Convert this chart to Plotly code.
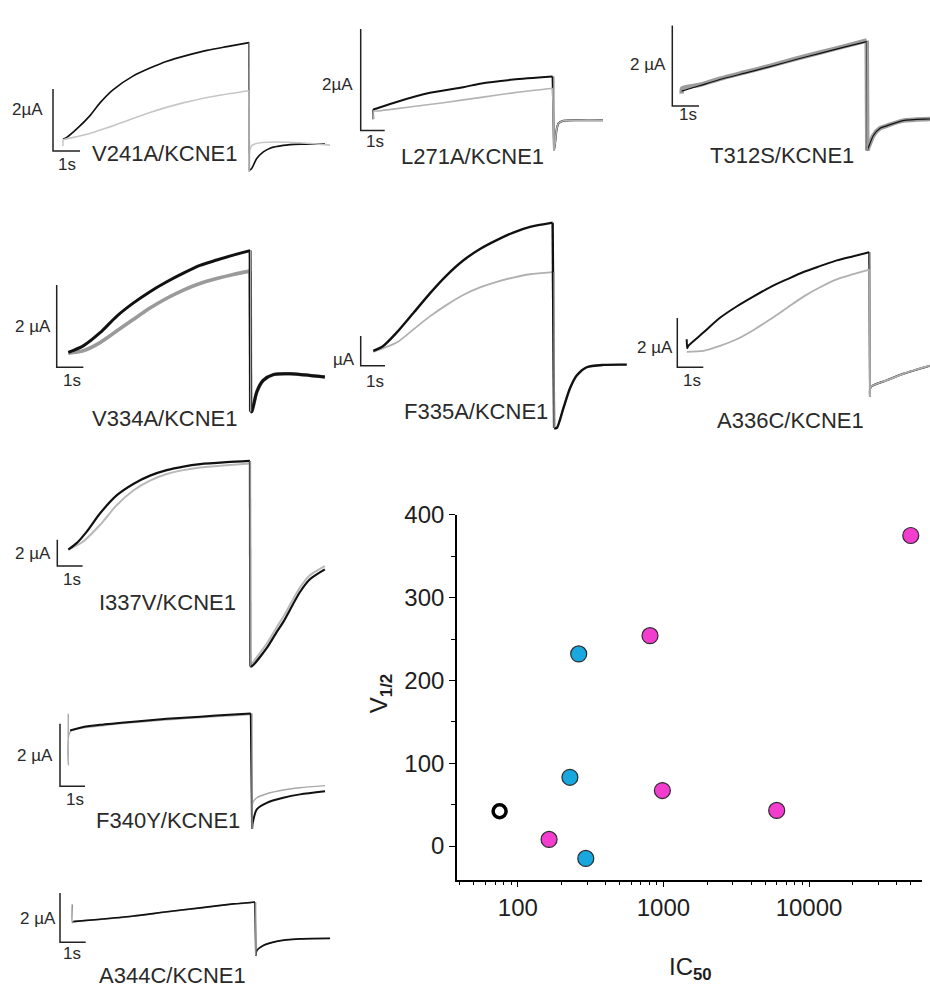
import plotly.graph_objects as go

W, H = 930, 988
FONT = "Liberation Sans, Arial, sans-serif"

# ---------------- scatter data: V1/2 vs IC50 ----------------
WT_IC50 = [75]
WT_V12 = [42]
BLUE_IC50 = [262, 228, 293]
BLUE_V12 = [232, 83, -15]
MAGENTA_IC50 = [50000, 809, 984, 6000, 164]
MAGENTA_V12 = [375, 254, 67, 43, 8]
X_TICKS = [100, 1000, 10000]
X_TICK_TEXT = ["100", "1000", "10000"]
X_MINOR = [40, 50, 60, 70, 80, 90, 200, 300, 400, 500, 600, 700, 800, 900,
           2000, 3000, 4000, 5000, 6000, 7000, 8000, 9000, 20000, 30000, 40000, 50000]
Y_TICKS = [0, 100, 200, 300, 400]
Y_MINOR = [50, 150, 250, 350]

# ---------------- current traces (time in s, current in µA) ----------------
SCALE_S = 1      # horizontal scale bar, s
SCALE_UA = 2     # vertical scale bar, µA

V241A_T_BLACK = [0, 0.14, 0.51, 1.0, 1.37, 1.85, 2.59, 3.22, 3.85, 4.59, 5.33, 6.07, 6.89]
V241A_I_BLACK = [0, 0.06, 0.33, 0.76, 1.17, 1.59, 2.03, 2.29, 2.51, 2.70, 2.86, 2.98, 3.11]
V241A_T_GRAY = [0, 0.01, 0.14, 0.89, 2.0, 3.22, 4.44, 5.70, 6.89]
V241A_I_GRAY = [-0.22, -0.02, 0.01, 0.16, 0.48, 0.86, 1.17, 1.40, 1.56]
V241A_T_TAIL_BLACK = [6.90, 6.99, 7.17, 7.42, 7.67, 8.16, 8.78, 9.70]
V241A_I_TAIL_BLACK = [-1.00, -0.94, -0.63, -0.41, -0.29, -0.20, -0.16, -0.15]
V241A_T_TAIL_GRAY = [6.90, 7.00, 9.89]
V241A_I_TAIL_GRAY = [-1.05, -0.20, -0.19]

L271A_T_BLACK = [0, 0.01, 0.14, 0.97, 2.36, 3.75, 4.45, 5.83, 7.47]
L271A_I_BLACK = [0, 0.19, 0.21, 0.34, 0.52, 0.63, 0.70, 0.78, 0.84]
L271A_T_GRAY = [0, 0.01, 0.14, 1.5, 3.0, 4.5, 6.0, 7.47]
L271A_I_GRAY = [0, 0.16, 0.16, 0.24, 0.33, 0.43, 0.53, 0.61]
L271A_T_TAIL = [7.53, 7.58, 7.64, 7.72, 7.92, 8.61, 9.57]
L271A_I_TAIL = [-0.61, -0.45, -0.20, -0.08, -0.03, -0.02, -0.02]

T312S_T_BLACK = [0, 0.69, 1.43, 2.37, 3.31, 4.24, 5.18, 6.12, 6.93]
T312S_I_BLACK = [0, 0.14, 0.29, 0.45, 0.61, 0.78, 0.94, 1.10, 1.23]
T312S_T_GRAY = [0, 0.02, 0.69, 1.43, 2.37, 3.31, 4.24, 5.18, 6.12, 6.93]
T312S_I_GRAY = [-0.06, 0.07, 0.16, 0.31, 0.47, 0.63, 0.80, 0.96, 1.12, 1.26]
T312S_T_TAIL = [6.95, 6.98, 7.18, 7.43, 7.68, 8.29, 9.30, 9.60]
T312S_I_TAIL = [-1.47, -1.42, -1.10, -0.92, -0.86, -0.73, -0.69, -0.68]

V334A_T_BLACK = [0, 0.56, 1.19, 1.81, 2.43, 3.06, 3.69, 4.31, 4.93, 5.56, 6.18, 6.81]
V334A_I_BLACK = [0, 0.16, 0.48, 0.88, 1.20, 1.48, 1.72, 1.93, 2.12, 2.25, 2.37, 2.48]
V334A_T_GRAY = [0, 0.56, 1.19, 1.81, 2.43, 3.06, 3.69, 4.31, 4.93, 5.56, 6.18, 6.81]
V334A_I_GRAY = [-0.02, 0.04, 0.24, 0.52, 0.80, 1.08, 1.32, 1.52, 1.68, 1.80, 1.90, 1.98]
V334A_T_TAIL = [6.83, 6.87, 7.06, 7.30, 7.68, 8.30, 9.61]
V334A_I_TAIL = [-1.44, -1.44, -0.96, -0.68, -0.54, -0.52, -0.60]

F335A_T_BLACK = [0, 0.41, 0.96, 1.65, 2.33, 3.02, 3.70, 4.39, 5.08, 5.76, 6.45, 7.38]
F335A_I_BLACK = [0, 0.33, 1.23, 2.56, 3.89, 5.11, 6.11, 6.89, 7.49, 8.00, 8.38, 8.67]
F335A_T_GRAY = [0, 0.96, 1.65, 2.33, 3.02, 3.70, 4.39, 5.08, 5.76, 6.45, 7.38]
F335A_I_GRAY = [-0.07, 0.56, 1.45, 2.33, 3.11, 3.78, 4.29, 4.67, 4.96, 5.18, 5.33]
F335A_T_TAIL = [7.44, 7.55, 7.82, 8.09, 8.37, 8.78, 9.47, 10.43]
F335A_I_TAIL = [-5.22, -5.22, -3.89, -2.55, -1.67, -1.11, -0.95, -0.93]

A336C_T_BLACK = [0, 0.02, 0.06, 0.64, 1.28, 1.92, 2.56, 3.20, 3.85, 4.49, 5.13, 5.77, 6.41, 7.02]
A336C_I_BLACK = [0.51, 0.15, 0.24, 0.78, 1.38, 1.84, 2.24, 2.62, 2.94, 3.24, 3.48, 3.71, 3.88, 4.04]
A336C_T_GRAY = [0, 0.64, 1.28, 1.92, 2.56, 3.20, 3.85, 4.49, 5.13, 5.77, 6.41, 7.02]
A336C_I_GRAY = [0, 0.04, 0.24, 0.51, 0.88, 1.31, 1.78, 2.24, 2.62, 2.94, 3.15, 3.34]
A336C_T_TAIL = [7.05, 7.08, 7.69, 8.33, 9.36]
A336C_I_TAIL = [-1.82, -1.42, -1.16, -0.89, -0.56]

I337V_T_BLACK = [0, 0.33, 0.73, 1.25, 1.91, 2.57, 3.23, 3.89, 4.55, 5.21, 6.26, 7.18]
I337V_I_BLACK = [0, 0.49, 1.37, 2.74, 4.12, 4.99, 5.62, 6.04, 6.31, 6.49, 6.64, 6.74]
I337V_T_GRAY = [0.13, 0.59, 1.25, 1.91, 2.57, 3.23, 3.89, 4.55, 5.21, 6.26, 7.18]
I337V_I_GRAY = [0.12, 0.62, 1.87, 3.37, 4.49, 5.24, 5.74, 6.04, 6.24, 6.41, 6.54]
I337V_T_TAIL = [7.19, 7.25, 7.84, 8.24, 8.50, 9.15, 9.55, 10.14]
I337V_I_TAIL_BLACK = [-8.87, -8.87, -7.49, -6.25, -5.49, -3.24, -2.25, -1.50]
I337V_I_TAIL_GRAY = [-8.87, -8.70, -7.15, -5.90, -5.10, -2.90, -1.95, -1.25]

F340Y_T_BLACK = [0.07, 0.6, 1.27, 2.6, 3.94, 5.27, 6.6, 7.3]
F340Y_I_BLACK = [0, 0.11, 0.18, 0.28, 0.37, 0.44, 0.51, 0.54]
F340Y_T_GRAY = [0, 0, 0.07, 1.27, 3.94, 7.3]
F340Y_I_GRAY = [0.53, -1.11, -0.05, 0.14, 0.34, 0.51]
F340Y_T_TAIL = [7.35, 7.38, 7.54, 7.94, 8.6, 9.27, 10.27]
F340Y_I_TAIL_BLACK = [-3.16, -2.95, -2.53, -2.32, -2.16, -2.05, -1.95]
F340Y_I_TAIL_GRAY = [-3.16, -2.32, -2.16, -2.03, -1.91, -1.84, -1.77]

A344C_T_BLACK = [0.04, 1.08, 2.37, 3.67, 4.97, 6.26, 7.11]
A344C_I_BLACK = [0, 0.10, 0.23, 0.40, 0.56, 0.72, 0.80]
A344C_T_GRAY = [0, 0, 0.04, 1.08, 2.37, 3.67, 4.97, 6.26, 7.11]
A344C_I_GRAY = [0.70, -0.04, 0, 0.09, 0.22, 0.39, 0.55, 0.71, 0.79]
A344C_T_TAIL = [7.14, 7.18, 7.43, 7.95, 8.86, 10.03]
A344C_I_TAIL = [-1.37, -1.17, -0.97, -0.80, -0.70, -0.68]

PANEL_NAMES = ["V241A/KCNE1", "L271A/KCNE1", "T312S/KCNE1", "V334A/KCNE1", "F335A/KCNE1",
               "A336C/KCNE1", "I337V/KCNE1", "F340Y/KCNE1", "A344C/KCNE1"]
SCALE_LABELS = ["2µA", "2µA", "2 µA", "2 µA", "µA", "2 µA", "2 µA", "2 µA", "2 µA"]

PANEL_DATA = [
    (V241A_T_BLACK, V241A_I_BLACK, V241A_T_GRAY, V241A_I_GRAY,
     V241A_T_TAIL_BLACK, V241A_I_TAIL_BLACK, V241A_T_TAIL_GRAY, V241A_I_TAIL_GRAY),
    (L271A_T_BLACK, L271A_I_BLACK, L271A_T_GRAY, L271A_I_GRAY,
     L271A_T_TAIL, L271A_I_TAIL, L271A_T_TAIL, L271A_I_TAIL),
    (T312S_T_BLACK, T312S_I_BLACK, T312S_T_GRAY, T312S_I_GRAY,
     T312S_T_TAIL, T312S_I_TAIL, T312S_T_TAIL, T312S_I_TAIL),
    (V334A_T_BLACK, V334A_I_BLACK, V334A_T_GRAY, V334A_I_GRAY,
     V334A_T_TAIL, V334A_I_TAIL, V334A_T_TAIL, V334A_I_TAIL),
    (F335A_T_BLACK, F335A_I_BLACK, F335A_T_GRAY, F335A_I_GRAY,
     F335A_T_TAIL, F335A_I_TAIL, F335A_T_TAIL, F335A_I_TAIL),
    (A336C_T_BLACK, A336C_I_BLACK, A336C_T_GRAY, A336C_I_GRAY,
     A336C_T_TAIL, A336C_I_TAIL, A336C_T_TAIL, A336C_I_TAIL),
    (I337V_T_BLACK, I337V_I_BLACK, I337V_T_GRAY, I337V_I_GRAY,
     I337V_T_TAIL, I337V_I_TAIL_BLACK, I337V_T_TAIL, I337V_I_TAIL_GRAY),
    (F340Y_T_BLACK, F340Y_I_BLACK, F340Y_T_GRAY, F340Y_I_GRAY,
     F340Y_T_TAIL, F340Y_I_TAIL_BLACK, F340Y_T_TAIL, F340Y_I_TAIL_GRAY),
    (A344C_T_BLACK, A344C_I_BLACK, A344C_T_GRAY, A344C_I_GRAY,
     A344C_T_TAIL, A344C_I_TAIL, A344C_T_TAIL, A344C_I_TAIL),
]

# ---------------- layout geometry (pixels) and styles ----------------
# origin = pixel of (t=0, I=0); pps = px per s; ppu = px per µA; bar = scale-bar corner
PANEL_GEO = [
    dict(origin=(63, 127), pps=27.0, ppu=31.5, bar=(53, 139),
         lab=(27, 97), sec=(67, 153), name=(165, 142)),
    dict(origin=(373.3, 106.7), pps=24.0, ppu=51.5, bar=(360.7, 118.3),
         lab=(337, 72), sec=(375, 129), name=(472, 145)),
    dict(origin=(681.7, 78.3), pps=26.7, ppu=40.85, bar=(672.3, 93.3),
         lab=(648, 51), sec=(688, 102), name=(782, 144)),
    dict(origin=(68.3, 343.3), pps=26.7, ppu=41.65, bar=(56.7, 358.3),
         lab=(33, 317), sec=(72, 372), name=(165, 410)),
    dict(origin=(373.3, 341.7), pps=24.3, ppu=15.0, bar=(360.7, 356.7),
         lab=(344, 350), sec=(375, 373), name=(476, 403)),
    dict(origin=(686.7, 342.7), pps=26.0, ppu=25.0, bar=(677.3, 358.3),
         lab=(655, 338), sec=(692, 372), name=(790, 412)),
    dict(origin=(68.3, 543.3), pps=25.3, ppu=13.35, bar=(57.3, 560),
         lab=(33, 547), sec=(72, 574), name=(167, 597)),
    dict(origin=(68.3, 726.7), pps=25.0, ppu=31.65, bar=(60, 783.3),
         lab=(35, 752), sec=(75, 797), name=(168, 818)),
    dict(origin=(72.3, 920.7), pps=25.7, ppu=25.0, bar=(60, 941.7),
         lab=(38, 917), sec=(72, 953), name=(172, 975)),
]
PANEL_STYLE = [
    dict(bw=1.6, gc="#c6c6c6", gw=1.6, step="black"),
    dict(bw=2.0, gc="#b3b3b3", gw=1.6, step="black"),
    dict(bw=1.2, gc="#9c9c9c", gw=4.5, step="black"),
    dict(bw=3.0, gc="#9a9a9a", gw=3.6, step="black"),
    dict(bw=2.4, gc="#b0b0b0", gw=1.8, step="gray"),
    dict(bw=2.0, gc="#b0b0b0", gw=1.8, step="black"),
    dict(bw=2.2, gc="#b8b8b8", gw=2.0, step="black"),
    dict(bw=2.0, gc="#a8a8a8", gw=1.4, step="black"),
    dict(bw=1.6, gc="#8a8a8a", gw=1.4, step="black"),
]

fig = go.Figure()
annotations = []
layout_axes = {}


def paper(px, py):
    return px / W, 1 - py / H


for k in range(9):
    n = k + 2
    xr, yr = f"x{n}", f"y{n}"
    geo, sty = PANEL_GEO[k], PANEL_STYLE[k]
    tb, ib, tg, ig, ttb, itb, ttg, itg = PANEL_DATA[k]
    x0, y0 = geo["origin"]
    pps, ppu = geo["pps"], geo["ppu"]
    layout_axes[f"xaxis{n}"] = dict(domain=[0, 1], range=[-x0 / pps, (W - x0) / pps],
                                    visible=False, anchor=yr, fixedrange=True)
    layout_axes[f"yaxis{n}"] = dict(domain=[0, 1], range=[(y0 - H) / ppu, y0 / ppu],
                                    visible=False, anchor=xr, fixedrange=True)

    def line(x, y, color, width, shape="spline"):
        fig.add_trace(go.Scatter(x=x, y=y, xaxis=xr, yaxis=yr, mode="lines",
                                 line=dict(color=color, width=width, shape=shape,
                                           smoothing=0.7 if shape == "spline" else None),
                                 hoverinfo="skip", showlegend=False))

    black_first = k in (0, 1, 5)   # where gray lies on top
    order = ["black", "gray"] if black_first else ["gray", "black"]
    for c in order:
        if c == "gray":
            line(tg, ig, sty["gc"], sty["gw"])
            line([tg[-1], ttg[0]], [ig[-1], itg[0]], sty["gc"], sty["gw"], "linear")
            line(ttg, itg, sty["gc"], sty["gw"])
        else:
            line(tb, ib, "#111111", sty["bw"])
            line([tb[-1], ttb[0]], [ib[-1], itb[0]], "#111111", sty["bw"], "linear")
            line(ttb, itb, "#111111", sty["bw"])
    # capacitive step drawn in light gray
    top = ib[-1] if sty["step"] == "black" else ig[-1]
    bottom = min(itb[0], itg[0])
    t_step = max(ttb[0], ttg[0])
    line([t_step, t_step], [top, bottom], "#a6a6a6", 1.3, "linear")

    # scale bar
    bx = (geo["bar"][0] - x0) / pps
    by = (y0 - geo["bar"][1]) / ppu
    line([bx, bx, bx + SCALE_S], [by + SCALE_UA, by, by], "#222222", 1.5, "linear")

    for key, txt, size in (("lab", SCALE_LABELS[k], 17), ("sec", "1s", 17),
                           ("name", PANEL_NAMES[k], 22)):
        px, py = geo[key]
        ax_, ay_ = paper(px, py)
        annotations.append(dict(x=ax_, y=ay_, xref="paper", yref="paper", text=txt,
                                showarrow=False, xanchor="center", yanchor="middle",
                                font=dict(family=FONT, size=size, color="#2a2a2a")))

# ---------------- scatter plot ----------------
mk_line = dict(color="#2b2b2b", width=1.2)
fig.add_trace(go.Scatter(x=BLUE_IC50, y=BLUE_V12, mode="markers", xaxis="x", yaxis="y",
                         marker=dict(size=16, color="#19a7e0", line=mk_line),
                         showlegend=False, cliponaxis=False))
fig.add_trace(go.Scatter(x=MAGENTA_IC50, y=MAGENTA_V12, mode="markers", xaxis="x", yaxis="y",
                         marker=dict(size=16, color="#f23dcf", line=mk_line),
                         showlegend=False, cliponaxis=False))
fig.add_trace(go.Scatter(x=WT_IC50, y=WT_V12, mode="markers", xaxis="x", yaxis="y",
                         marker=dict(size=13, color="white", line=dict(color="black", width=3.5)),
                         showlegend=False, cliponaxis=False))

X_LEFT, X_RIGHT, Y_TOP, Y_BOTTOM = 457, 922, 508, 878
PX_PER_DECADE = 145.6
x_log_right = 4 + (X_RIGHT - 809) / PX_PER_DECADE
x_log_left = x_log_right - (X_RIGHT - X_LEFT) / PX_PER_DECADE
tickfont = dict(family=FONT, size=24, color="#1e1e1e")

fig.update_layout(
    width=W, height=H, autosize=False,
    margin=dict(l=0, r=0, t=0, b=0),
    paper_bgcolor="white", plot_bgcolor="rgba(0,0,0,0)",
    showlegend=False,
    xaxis=dict(type="log", domain=[X_LEFT / W, X_RIGHT / W], range=[x_log_left, x_log_right],
               anchor="y", showline=True, linecolor="black", linewidth=1.6,
               ticks="outside", ticklen=6, tickwidth=1.3, tickcolor="black",
               tickvals=X_TICKS, ticktext=X_TICK_TEXT, tickfont=tickfont,
               showgrid=False, zeroline=False, fixedrange=True,
               minor=dict(tickvals=X_MINOR, ticks="outside", ticklen=4, tickwidth=1,
                          tickcolor="black", showgrid=False)),
    yaxis=dict(domain=[1 - Y_BOTTOM / H, 1 - Y_TOP / H], range=[-40.5, 400],
               anchor="x", showline=True, linecolor="black", linewidth=1.6,
               ticks="outside", ticklen=6, tickwidth=1.3, tickcolor="black",
               tickvals=Y_TICKS, tickfont=tickfont, showgrid=False, zeroline=False,
               fixedrange=True,
               minor=dict(tickvals=Y_MINOR, ticks="outside", ticklen=4, tickwidth=1,
                          tickcolor="black", showgrid=False)),
    **layout_axes,
)

ax_, ay_ = paper(380, 690)
annotations.append(dict(x=ax_, y=ay_, xref="paper", yref="paper",
                        text="V<sub><b>1/2</b></sub>", textangle=-90, showarrow=False,
                        xanchor="center", yanchor="middle",
                        font=dict(family=FONT, size=24, color="#1e1e1e")))
ax_, ay_ = paper(690, 968)
annotations.append(dict(x=ax_, y=ay_, xref="paper", yref="paper",
                        text="IC<sub><b>50</b></sub>", showarrow=False,
                        xanchor="center", yanchor="middle",
                        font=dict(family=FONT, size=24, color="#1e1e1e")))
fig.update_layout(annotations=annotations)

fig.write_html("out.html", post_script="document.body.style.margin='0';",
               config={"displayModeBar": False})
